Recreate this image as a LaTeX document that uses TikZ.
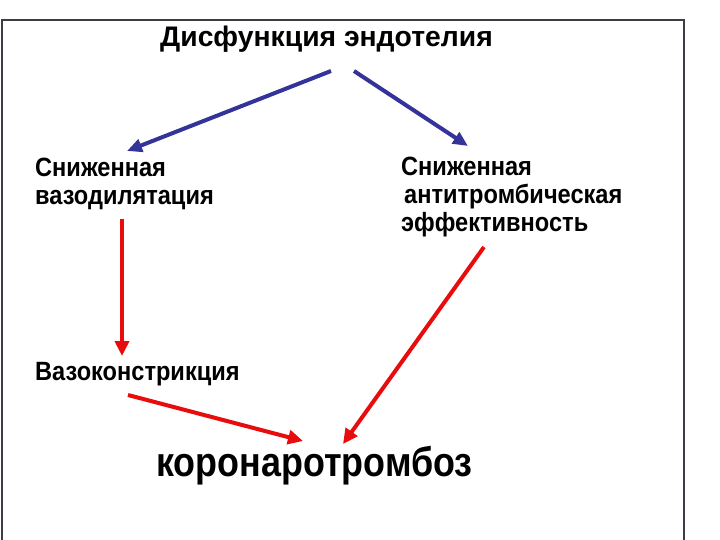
\documentclass[tikz,border=0pt]{standalone}
\usepackage{fontspec}
\setmainfont{Liberation Sans}
\usetikzlibrary{arrows.meta}
\definecolor{arrblue}{RGB}{51,51,153}
\definecolor{arrred}{RGB}{232,12,12}
\definecolor{framec}{RGB}{60,60,70}
\newcommand{\tallt}[2]{\scalebox{1}[#1]{#2}}
\tikzset{
  lbl/.style={anchor=base west, inner sep=0pt, font=\fontsize{23.6}{28}\selectfont\bfseries},
  ttl/.style={anchor=base west, inner sep=0pt, font=\fontsize{28.3}{32}\selectfont\bfseries},
  big/.style={anchor=base west, inner sep=0pt, font=\fontsize{35.9}{40}\selectfont\bfseries},
  barrow/.style={draw=arrblue, line width=4pt, -{Triangle[length=15pt,width=13pt]}},
  rarrow/.style={draw=arrred, line width=4pt, -{Triangle[length=15pt,width=14pt]}},
}
\begin{document}
\begin{tikzpicture}[x=1pt,y=-1pt]
\useasboundingbox (0,0) rectangle (720,540);
\fill[white] (0,0) rectangle (720,540);
\draw[framec, line width=1.5pt] (2,540) -- (2,20) -- (684,20) -- (684,540);

\node[ttl] (title) at (160,47) {Дисфункция эндотелия};
\node[lbl] (l1) at (35,177) {\tallt{1.12}{Сниженная}};
\node[lbl] (l2) at (35,205) {\tallt{1.12}{вазодилятация}};
\node[lbl] (r1) at (401,176) {\tallt{1.12}{Сниженная}};
\node[lbl] (r2) at (404,204) {\tallt{1.12}{антитромбическая}};
\node[lbl] (r3) at (401,232) {\tallt{1.12}{эффективность}};
\node[lbl] (vaso) at (35,380) {\tallt{1.12}{Вазоконстрикция}};
\node[big] (coro) at (156,476) {\tallt{1.15}{коронаротромбоз}};

\coordinate (tL) at (331,71);
\coordinate (tR) at (354,71);
\coordinate (lTip) at (127,151);
\coordinate (rTip) at (468,146);
\coordinate (vStart) at (122,219);
\coordinate (vTip) at (122,356);
\coordinate (dStart) at (484,247);
\coordinate (dTip) at (343,444);
\coordinate (bStart) at (128,395);
\coordinate (bTip) at (303,441);

\draw[barrow] (tL) -- (lTip);
\draw[barrow] (tR) -- (rTip);
\draw[rarrow] (vStart) -- (vTip);
\draw[rarrow] (dStart) -- (dTip);
\draw[rarrow] (bStart) -- (bTip);
\end{tikzpicture}
\end{document}
